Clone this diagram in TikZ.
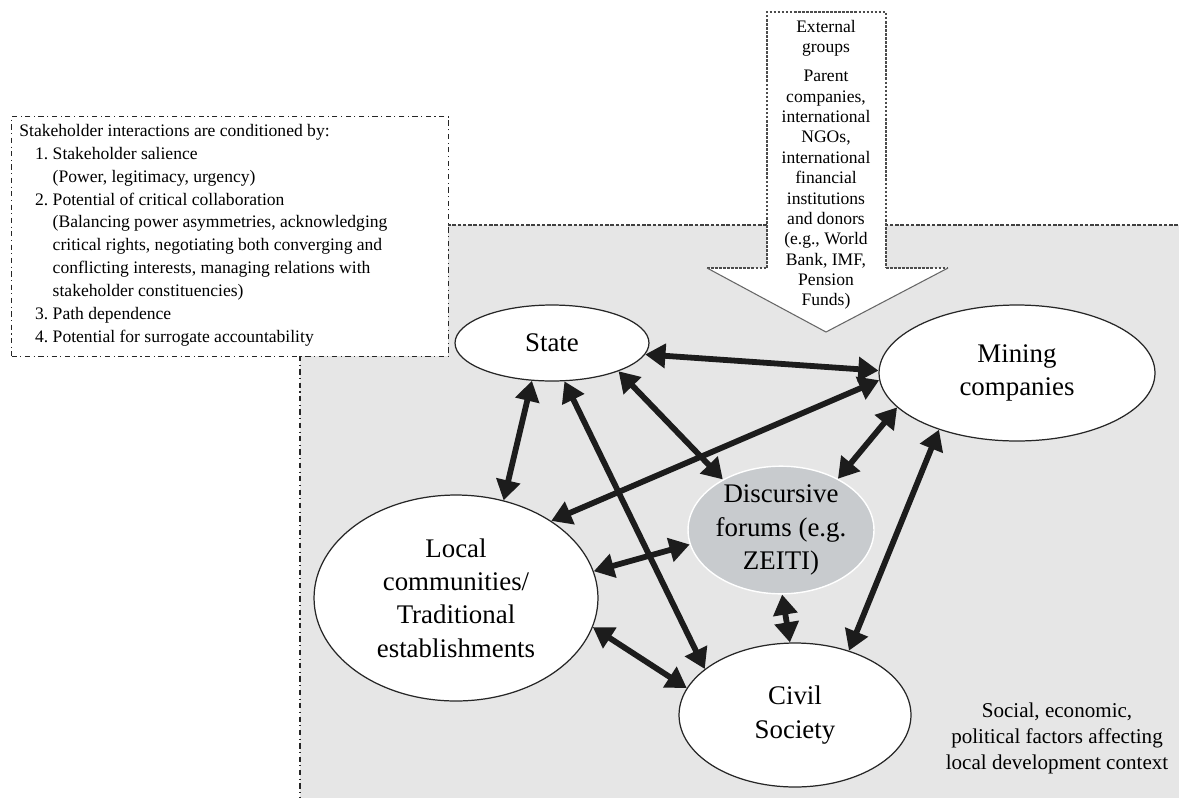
\documentclass[tikz,border=0pt]{standalone}
\usepackage{fontspec}
\setmainfont{Liberation Serif}
\usetikzlibrary{arrows.meta,shapes.geometric}
\definecolor{regiongray}{RGB}{230,230,230}
\definecolor{forumgray}{RGB}{200,203,206}
\definecolor{ink}{RGB}{28,28,28}
\begin{document}
\begin{tikzpicture}[x=0.02cm,y=-0.02cm,
  actor/.style={ellipse, draw=black!85, line width=0.7pt, fill=white, inner sep=0pt, align=center,
    font=\fontsize{15.3}{19}\selectfont},
  forum/.style={actor, fill=forumgray, draw=white, line width=0.8pt},
  link/.style={line width=3.3pt, draw=ink,
    {Triangle[length=11.5pt,width=13.5pt]}-{Triangle[length=11.5pt,width=13.5pt]}},
  condbox/.style={draw=black!85, line width=0.6pt, dash dot, fill=white, inner sep=0pt, anchor=north west},
  smalltext/.style={inner sep=0pt, font=\fontsize{10}{13}\selectfont},
]
\useasboundingbox (0,0) rectangle (1179,798);
% context region
\fill[regiongray] (300,225) rectangle (1179,798);
\draw[black!75, line width=0.6pt, dash pattern=on 2pt off 1pt] (447,225) -- (1179,225);
\draw[black!85, line width=0.6pt, dash dot] (300,356) -- (300,798);
\node[inner sep=0pt, align=center, anchor=north, font=\fontsize{12}{14.7}\selectfont] (context) at (1057,703)
  {Social, economic,\\political factors affecting\\local development context};

% conditions box
\node[condbox, minimum width=8.74cm, minimum height=4.8cm] (cond) at (11,116) {};
\node[smalltext, anchor=north west, align=left] (condtext) at (19,124)
 {Stakeholder interactions are conditioned by:\\
  \hspace*{9pt}\makebox[10pt][l]{1.}Stakeholder salience\\
  \hspace*{19pt}(Power, legitimacy, urgency)\\
  \hspace*{9pt}\makebox[10pt][l]{2.}Potential of critical collaboration\\
  \hspace*{19pt}(Balancing power asymmetries, acknowledging\\
  \hspace*{19pt}critical rights, negotiating both converging and\\
  \hspace*{19pt}conflicting interests, managing relations with\\
  \hspace*{19pt}stakeholder constituencies)\\
  \hspace*{9pt}\makebox[10pt][l]{3.}Path dependence\\
  \hspace*{9pt}\makebox[10pt][l]{4.}Potential for surrogate accountability};

% external groups arrow
\fill[white] (767,12) -- (886,12) -- (886,268) -- (948,268) -- (826,332) -- (707,268) -- (767,268) -- cycle;
\draw[black!70, line width=0.6pt, dash pattern=on 1.5pt off 0.8pt] (767,268) -- (767,12) -- (886,12) -- (886,268);
\draw[black!70, line width=0.6pt, dash pattern=on 1.5pt off 0.8pt] (707,268) -- (767,268) (886,268) -- (948,268);
\draw[black!60, line width=0.6pt] (707,268) -- (826,332) -- (948,268);
\node[inner sep=0pt, align=center, anchor=north, font=\fontsize{10}{11.6}\selectfont] (external) at (826,20)
  {External\\groups\\[4.8pt]Parent\\companies,\\international\\NGOs,\\international\\financial\\institutions\\and donors\\(e.g., World\\Bank, IMF,\\Pension\\Funds)};

% actors
\node[actor, minimum width=3.88cm, minimum height=1.52cm] (state) at (552,343) {State};
\node[actor, minimum width=5.52cm, minimum height=2.72cm] (mining) at (1017,373) {Mining\\companies};
\node[forum, minimum width=3.72cm, minimum height=2.44cm] (forum) at (781,530) {Discursive\\forums (e.g.\\ZEITI)};
\node[actor, minimum width=5.68cm, minimum height=4.12cm] (local) at (456,598) {Local\\communities/\\Traditional\\establishments};
\node[actor, minimum width=4.64cm, minimum height=2.88cm] (civil) at (795,715) {Civil\\Society};

% interactions
\draw[link] (state.-7) -- (mining.179);
\draw[link] (state.242) -- (local.64);
\draw[link] (state.-23) -- (forum.139);
\draw[link] (state.-72) -- (civil.153);
\draw[link] (mining.-177) -- (local.39);
\draw[link] (mining.196) -- (forum.42);
\draw[link] (mining.216) -- (civil.50);
\draw[link] (forum.189) -- (local.11.5);
\draw[link] (forum.-89) -- (civil.94);
\draw[link] (local.-12.4) -- (civil.166);
\end{tikzpicture}
\end{document}
